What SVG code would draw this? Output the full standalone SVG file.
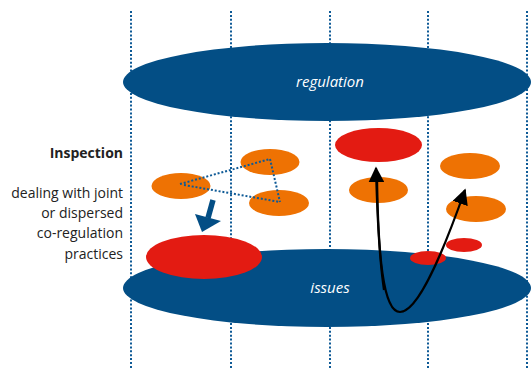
<svg xmlns="http://www.w3.org/2000/svg" width="532" height="369" viewBox="0 0 532 369">
  <style>
    .grid { stroke: #0e5a96; stroke-width: 2; stroke-dasharray: 2 1.9; fill: none; }
    .link { stroke: #0e5a96; stroke-width: 2; stroke-dasharray: 2 1.9; fill: none; }
    .level { fill: #034e85; }
    .orange { fill: #ee7203; }
    .red { fill: #e31b12; }
    .levelText { font-family: "Open Sans", "Liberation Sans", sans-serif; font-style: italic; font-size: 15px; fill: #ffffff; text-anchor: middle; }
    .side { font-family: "Open Sans", "Liberation Sans", sans-serif; font-size: 14px; fill: #222222; text-anchor: end; }
    .curve { stroke: #000000; stroke-width: 2.2; fill: none; }
  </style>
  <defs>
    <marker id="head" viewBox="0 0 10 10" refX="9" refY="5" markerWidth="7.2" markerHeight="7.2" orient="auto" markerUnits="strokeWidth">
      <path d="M0,0 L10,5 L0,10 Z" fill="#000000"/>
    </marker>
  </defs>

  <rect width="532" height="369" fill="#ffffff"/>

  <!-- vertical dotted guide lines -->
  <g id="grid">
    <line class="grid" x1="131" y1="11" x2="131" y2="369"/>
    <line class="grid" x1="231" y1="11" x2="231" y2="369"/>
    <line class="grid" x1="330" y1="11" x2="330" y2="369"/>
    <line class="grid" x1="428" y1="11" x2="428" y2="369"/>
    <line class="grid" x1="527" y1="11" x2="527" y2="369"/>
  </g>

  <g id="regulation">
    <ellipse class="level" cx="327" cy="82" rx="204" ry="39"/>
    <text class="levelText" x="330" y="87">regulation</text>
  </g>

  <g id="issues">
    <ellipse class="level" cx="327" cy="288" rx="204" ry="39"/>
    <text class="levelText" x="330" y="293">issues</text>
  </g>

  <g id="inspection-label">
    <text class="side" x="123" y="158" font-weight="bold">Inspection</text>
    <text class="side" x="123" y="198">dealing with joint</text>
    <text class="side" x="123" y="218">or dispersed</text>
    <text class="side" x="123" y="238">co-regulation</text>
    <text class="side" x="123" y="259">practices</text>
  </g>

  <g id="practice-a"><ellipse class="orange" cx="181" cy="186" rx="29.5" ry="13"/></g>
  <g id="practice-b"><ellipse class="orange" cx="270" cy="162" rx="29.5" ry="13"/></g>
  <g id="practice-c"><ellipse class="orange" cx="279" cy="203" rx="30" ry="13"/></g>
  <g id="issue-big"><ellipse class="red" cx="204" cy="257" rx="58" ry="22"/></g>

  <g id="issue-top"><ellipse class="red" cx="378.5" cy="145" rx="43.5" ry="17"/></g>
  <g id="practice-d"><ellipse class="orange" cx="378.5" cy="190" rx="29.5" ry="13"/></g>
  <g id="practice-e"><ellipse class="orange" cx="470" cy="166" rx="30" ry="13"/></g>
  <g id="practice-f"><ellipse class="orange" cx="476" cy="209" rx="30" ry="13"/></g>
  <g id="issue-small-a"><ellipse class="red" cx="464" cy="245" rx="18" ry="7"/></g>
  <g id="issue-small-b"><ellipse class="red" cx="428" cy="258" rx="18" ry="7"/></g>

  <g id="connectors">
    <!-- dotted links among the joint practices -->
    <line class="link" x1="180" y1="184" x2="270" y2="159"/>
    <line class="link" x1="184" y1="185" x2="280" y2="202"/>
    <line class="link" x1="270" y1="159" x2="280" y2="202"/>
    <!-- blue arrow down to the issue -->
    <line x1="213" y1="200" x2="208" y2="218" stroke="#034e85" stroke-width="5.5"/>
    <path d="M195,214 L221,221 L202,232 Z" fill="#034e85"/>
    <!-- issue loop rising to both levels -->
    <path class="curve" d="M377,175 C378,255 383,312 400,312 C418,312 442,255 465,190" marker-end="url(#head)"/>
    <path class="curve" d="M384,290 C378,250 377,205 376,168" stroke="none" marker-end="url(#head)"/>
  </g>
</svg>
